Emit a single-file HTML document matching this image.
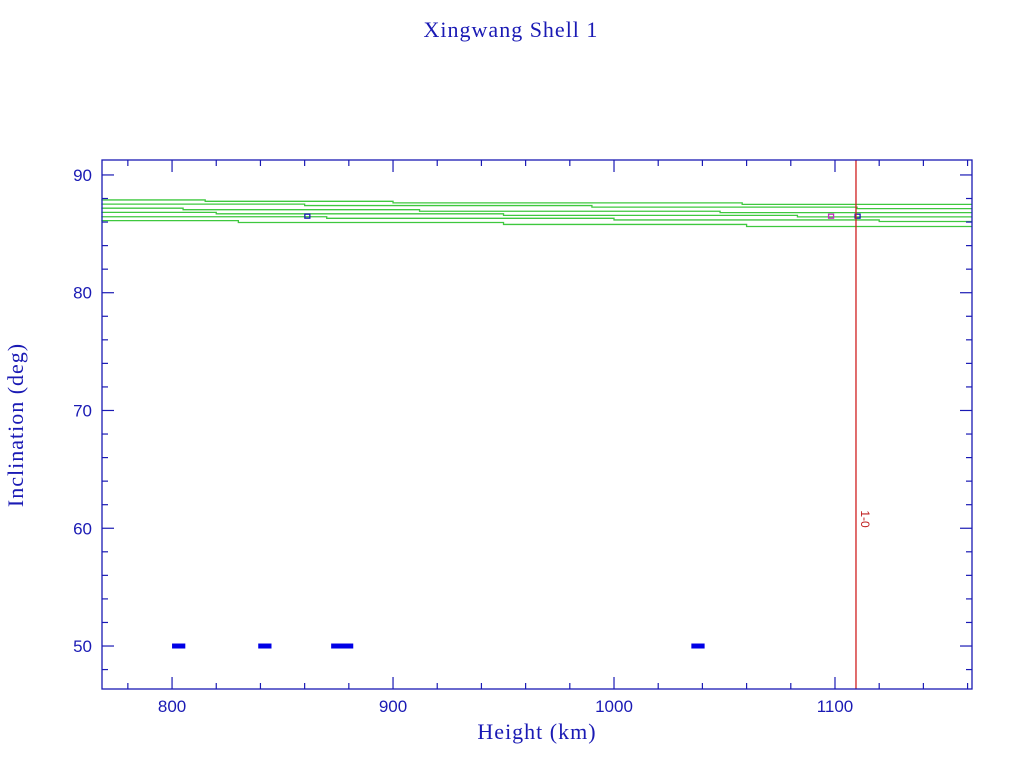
<!DOCTYPE html>
<html><head><meta charset="utf-8"><style>
body{margin:0;background:#fff;width:1024px;height:768px;overflow:hidden}
svg{display:block}
text{font-family:"Liberation Serif",serif;fill:#1a1ab4}
</style></head><body>
<svg id="chart" width="1024" height="768" viewBox="0 0 1024 768">
<text x="511" y="37" text-anchor="middle" font-size="22" letter-spacing="1">Xingwang Shell 1</text>
<text x="537" y="739" text-anchor="middle" font-size="22" letter-spacing="1">Height (km)</text>
<text transform="translate(23,425) rotate(-90)" text-anchor="middle" font-size="22" letter-spacing="1">Inclination (deg)</text>
<g id="plot"></g>
</svg>
<script>
const xTicks=[800,900,1000,1100];
const yTicks=[50,60,70,80,90];
// green step lines: break heights and inclinations per line
const lineBreaks=[[768,815,900,1058,1162],[768,860,990,1110,1162],[768,805,912,1048,1162],[768,820,950,1083,1162],[768,870,1000,1120,1162],[768,830,950,1060,1162]];
const lineIncs=[[87.88,87.76,87.63,87.5,87.45],[87.52,87.4,87.27,87.14,87.05],[87.18,87.05,86.92,86.8,86.72],[86.82,86.7,86.57,86.44,86.35],[86.45,86.32,86.18,86.05,85.97],[86.12,85.96,85.8,85.62,85.45]];
const markH=[861,1098,1110];
const markI=[86.5,86.5,86.5];
const markC=['#1a1ab4','#c030c0','#1a1ab4'];
const barStart=[800,839,872,1035];
const barEnd=[806,845,882,1041];
const barI=[50,50,50,50];
const refH=1109.5;
const X0=768.3,X1=1162,Y0=46.35,Y1=91.27,L=102,R=972,T=160,B=689;
const sx=v=>L+(v-X0)/(X1-X0)*(R-L);
const sy=v=>B-(v-Y0)/(Y1-Y0)*(B-T);
const g=document.getElementById('plot');
const NS='http://www.w3.org/2000/svg';
function mk(t,a){const e=document.createElementNS(NS,t);for(const k in a)e.setAttribute(k,a[k]);g.appendChild(e);return e;}
const ax='#1a1ab4';
lineBreaks.forEach((br,i)=>{let d='';for(let j=0;j<br.length-1;j++){d+=(j?'L':'M')+sx(br[j])+','+sy(lineIncs[i][j])+'L'+sx(br[j+1])+','+sy(lineIncs[i][j]);}
const p=mk('path',{d:d,fill:'none',stroke:'#3ec83e','stroke-width':1.3});

});
markH.forEach((h,i)=>{const r=mk('rect',{x:sx(h)-2,y:sy(markI[i])-2,width:5,height:4,fill:'none',stroke:markC[i],'stroke-width':1.3});

});
barStart.forEach((s,i)=>{const r=mk('rect',{x:sx(s),y:sy(barI[i])-2.5,width:sx(barEnd[i])-sx(s),height:5,fill:'#0000e6'});

});
const rl=mk('line',{x1:sx(refH),x2:sx(refH),y1:T,y2:B,stroke:'#d02020','stroke-width':1.3});


const rt=mk('text',{transform:`translate(${sx(refH)+5},519) rotate(90)`,'font-size':12,'text-anchor':'middle',style:'fill:#c02020;font-family:Liberation Sans,sans-serif'});
rt.textContent='1-0';


const fr=mk('rect',{x:L,y:T,width:R-L,height:B-T,fill:'none',stroke:ax,'stroke-width':1.3});


for(let v=780;v<=1160;v+=20){const maj=v%100===0,len=maj?12:6,x=sx(v);
mk('line',{x1:x,x2:x,y1:B,y2:B-len,stroke:ax,'stroke-width':1.2});mk('line',{x1:x,x2:x,y1:T,y2:T+len,stroke:ax,'stroke-width':1.2});}
for(let v=48;v<=90;v+=2){const maj=v%10===0,len=maj?12:6,y=sy(v);
mk('line',{x1:L,x2:L+len,y1:y,y2:y,stroke:ax,'stroke-width':1.2});mk('line',{x1:R,x2:R-len,y1:y,y2:y,stroke:ax,'stroke-width':1.2});}
xTicks.forEach(v=>{const t=mk('text',{x:sx(v),y:712,'text-anchor':'middle','font-size':17,style:'font-family:Liberation Sans,sans-serif'});t.textContent=v;

});
yTicks.forEach(v=>{const t=mk('text',{x:92,y:sy(v)+6,'text-anchor':'end','font-size':17,style:'font-family:Liberation Sans,sans-serif'});t.textContent=v;

});
</script>
</body></html>
